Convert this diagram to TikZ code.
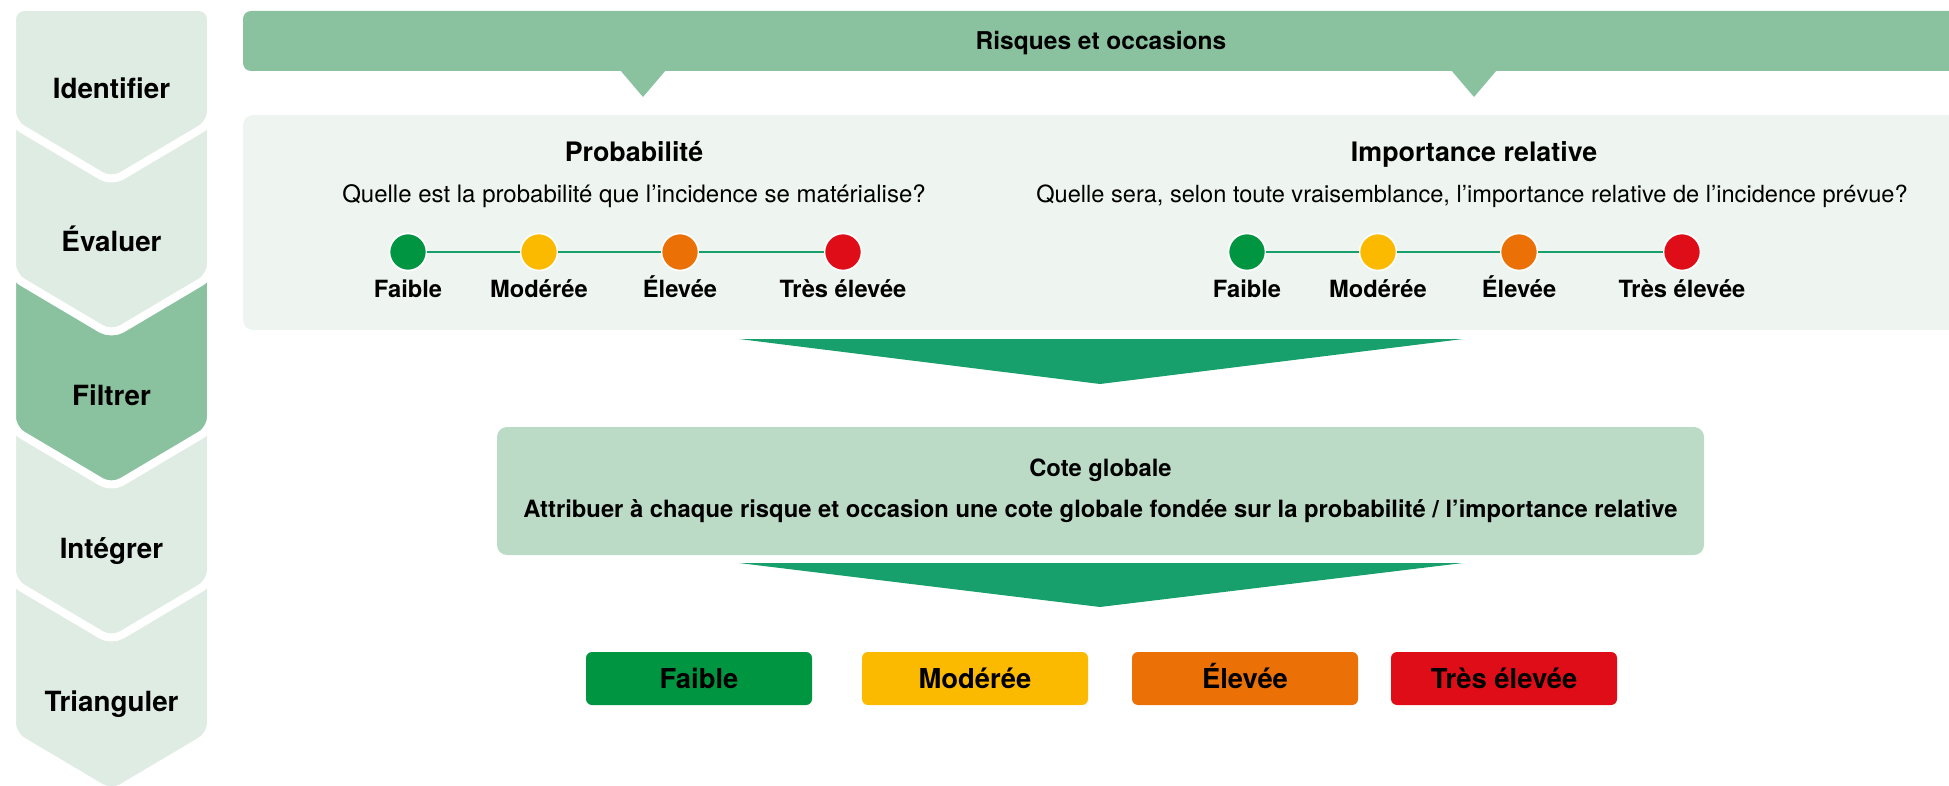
\documentclass[tikz,border=0pt]{standalone}
\usepackage{fontspec}
\setmainfont{TeX Gyre Heros}
\usepackage{xcolor}
\usetikzlibrary{calc,positioning}
\definecolor{stepfill}{HTML}{DFECE3}
\definecolor{barfill}{HTML}{8AC29F}
\definecolor{panelfill}{HTML}{EEF4F0}
\definecolor{cotefill}{HTML}{BBDBC6}
\definecolor{arrowfill}{HTML}{17A06B}
\definecolor{lowc}{HTML}{009540}
\definecolor{modc}{HTML}{FBBA00}
\definecolor{highc}{HTML}{EB7005}
\definecolor{vhighc}{HTML}{DF0D18}
\tikzset{>=stealth,
  steplabel/.style={font=\bfseries\fontsize{13.9}{16}\selectfont,anchor=base},
  dot/.style={circle,draw=white,line width=0.8pt,minimum size=18.5pt,inner sep=0pt},
  dotlabel/.style={font=\bfseries\fontsize{11.85}{14}\selectfont,anchor=base},
  ratebox/.style={rounded corners=3pt,minimum width=113pt,minimum height=26.5pt,inner sep=0pt,
    text height=9.9pt,text depth=0pt,font=\bfseries\fontsize{13.7}{16}\selectfont},
}

\begin{document}
\begin{tikzpicture}[x=0.5pt,y=-0.5pt]
\useasboundingbox (0,0) rectangle (1949,786);
\clip (0,0) rectangle (1949,786);

% steps on the left, from the bottom up so the white rims lie on top
\foreach \k/\lab/\col in {4/Trianguler/stepfill,3/Intégrer/stepfill,2/Filtrer/barfill,1/Évaluer/stepfill,0/Identifier/stepfill}{
  \pgfmathsetmacro{\sb}{123+153*\k}
  \pgfmathsetmacro{\tp}{max(7,\sb-160)}
  \filldraw[fill=\col,draw=white,line width=4pt,rounded corners=6pt] (12,\tp) -- (211,\tp) -- (211,\sb) -- (111.5,\sb+59) -- (12,\sb) -- cycle;
  \node[steplabel] (step\k) at (111.5,\sb-24) {\lab};
}

% top bar
\fill[barfill,rounded corners=4pt] (243,11) rectangle (1975,71);
\fill[barfill] (620,70) -- (666,70) -- (643,97) -- cycle;
\fill[barfill] (1451,70) -- (1497,70) -- (1474,97) -- cycle;
\node[font=\bfseries\fontsize{12.25}{14}\selectfont,anchor=base] (risk) at (1101,50) {Risques et occasions};

% panel with the two scales
\fill[panelfill,rounded corners=5pt] (243,115) rectangle (1975,330);
\node[font=\bfseries\fontsize{13.4}{16}\selectfont,anchor=base] (probtitle) at (634,162) {Probabilité};
\node[font=\fontsize{12}{14}\selectfont,anchor=base] (probq) at (634,203) {Quelle est la probabilité que l’incidence se matérialise?};
\node[font=\bfseries\fontsize{13.4}{16}\selectfont,anchor=base] (imptitle) at (1474,162) {Importance relative};
\node[font=\fontsize{11.8}{14}\selectfont,anchor=base] (impq) at (1472,203) {Quelle sera, selon toute vraisemblance, l’importance relative de l’incidence prévue?};

\foreach \side/\dx in {p/0,i/839}{
  \foreach \n/\x/\col/\lab in {1/408/lowc/Faible,2/539/modc/Modérée,3/680/highc/Élevée,4/843/vhighc/Très élevée}{
    \node[dot,fill=\col] (\side dot\n) at (\x+\dx,252) {};
    \node[dotlabel] (\side lab\n) at (\x+\dx,298) {\lab};
  }
  \draw[arrowfill,line width=1pt] (\side dot1) -- (\side dot2) -- (\side dot3) -- (\side dot4);
}

% arrows and overall rating
\fill[arrowfill] (739,339) -- (1463,339) -- (1100,384) -- cycle;
\node[fill=cotefill,rounded corners=5pt,minimum width=603.5pt,minimum height=64pt,align=center,
      font=\bfseries\fontsize{11.9}{20.5}\selectfont] (cote) at (1100.5,491)
      {Cote globale\\Attribuer à chaque risque et occasion une cote globale fondée sur la probabilité / l’importance relative};
\fill[arrowfill] (739,563) -- (1463,563) -- (1100,607) -- cycle;

\foreach \n/\x/\col/\lab in {1/699/lowc/Faible,2/975/modc/Modérée,3/1245/highc/Élevée,4/1504/vhighc/Très élevée}
  \node[ratebox,fill=\col] (rate\n) at (\x,678.5) {\lab};
\end{tikzpicture}
\end{document}
